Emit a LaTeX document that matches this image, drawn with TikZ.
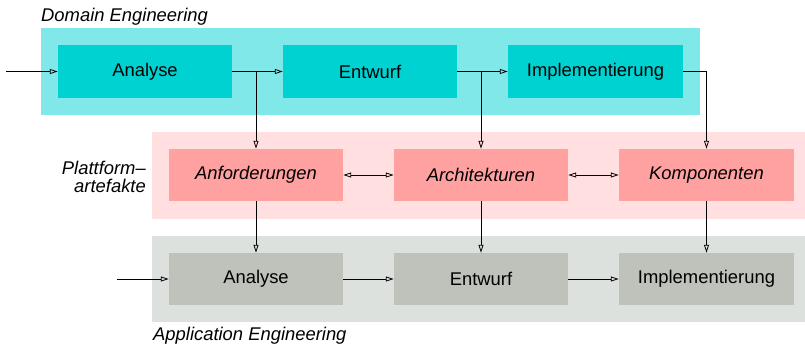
\documentclass[tikz,border=0pt]{standalone}
\usepackage{fontspec}
\setmainfont{Liberation Sans}
\usetikzlibrary{arrows.meta,positioning}
\definecolor{dombg}{HTML}{80E8E8}
\definecolor{domfg}{HTML}{00D1D1}
\definecolor{platbg}{HTML}{FFDFE0}
\definecolor{platfg}{HTML}{FFA1A1}
\definecolor{appbg}{HTML}{DCE1DE}
\definecolor{appfg}{HTML}{BEC2BB}
\tikzset{
    pbase/.style={inner sep=0pt, minimum width=174pt, minimum height=53pt, font=\fontsize{18.4}{20}\selectfont},
    dbox/.style={pbase, fill=domfg},
    pbox/.style={pbase, fill=platfg, font=\fontsize{18.4}{20}\selectfont\itshape},
    abox/.style={pbase, fill=appfg},
    lbl/.style={inner sep=0pt, font=\fontsize{18.4}{20}\selectfont\itshape},
    flow/.style={line width=0.8pt, -{Triangle[open, length=8pt, width=5pt]}},
    both/.style={line width=0.8pt, {Triangle[open, length=8pt, width=5pt]}-{Triangle[open, length=8pt, width=5pt]}}
}

\begin{document}
\begin{tikzpicture}[x=1pt, y=-1pt]
    \useasboundingbox (0, 0) rectangle (805, 347);

    % bands
    \fill[dombg] (41, 28) rectangle (700, 115);
    \fill[platbg] (152, 132) rectangle (805, 219);
    \fill[appbg] (152, 236) rectangle (805, 322);

    \node[lbl, anchor=base west] (domlbl) at (41, 22) {Domain Engineering};
    \node[lbl, anchor=base west] (applbl) at (153, 340) {Application Engineering};
    \node[lbl, anchor=east, align=right, font=\fontsize{18.4}{17.5}\selectfont\itshape] (platlbl) at (146, 177) {Plattform–\\artefakte};

    % domain engineering
    \node[dbox] (da) at (145, 71.5) {Analyse};
    \node[dbox] (de) at (370, 71.5) {Entwurf};
    \node[dbox, minimum width=175pt] (di) at (595.5, 71.5) {Implementierung};

    % plattform
    \node[pbox, minimum height=52pt] (pa) at (256, 175) {Anforderungen};
    \node[pbox, minimum height=52pt] (pr) at (481, 175) {Architekturen};
    \node[pbox, minimum height=52pt, minimum width=175pt] (pk) at (706.5, 175) {Komponenten};

    % application engineering
    \node[abox, minimum height=52pt] (aa) at (256, 279) {Analyse};
    \node[abox, minimum height=52pt] (ae) at (481, 279) {Entwurf};
    \node[abox, minimum height=52pt, minimum width=175pt] (ai) at (706.5, 279) {Implementierung};

    \coordinate (din) at (6, 71.5);
    \coordinate (ain) at (117, 279);
    \coordinate (b1) at (pa |- da);
    \coordinate (b2) at (pr |- de);

    \draw[flow] (din) -- (da);
    \draw[flow] (da) -- (de);
    \draw[flow] (de) -- (di);
    \draw[flow] (b1) -- (pa);
    \draw[flow] (b2) -- (pr);
    \draw[flow] (di.east) -| (pk.north);

    \draw[both] (pa) -- (pr);
    \draw[both] (pr) -- (pk);

    \draw[flow] (pa) -- (aa);
    \draw[flow] (pr) -- (ae);
    \draw[flow] (pk) -- (ai);

    \draw[flow] (ain) -- (aa);
    \draw[flow] (aa) -- (ae);
    \draw[flow] (ae) -- (ai);
\end{tikzpicture}
\end{document}
